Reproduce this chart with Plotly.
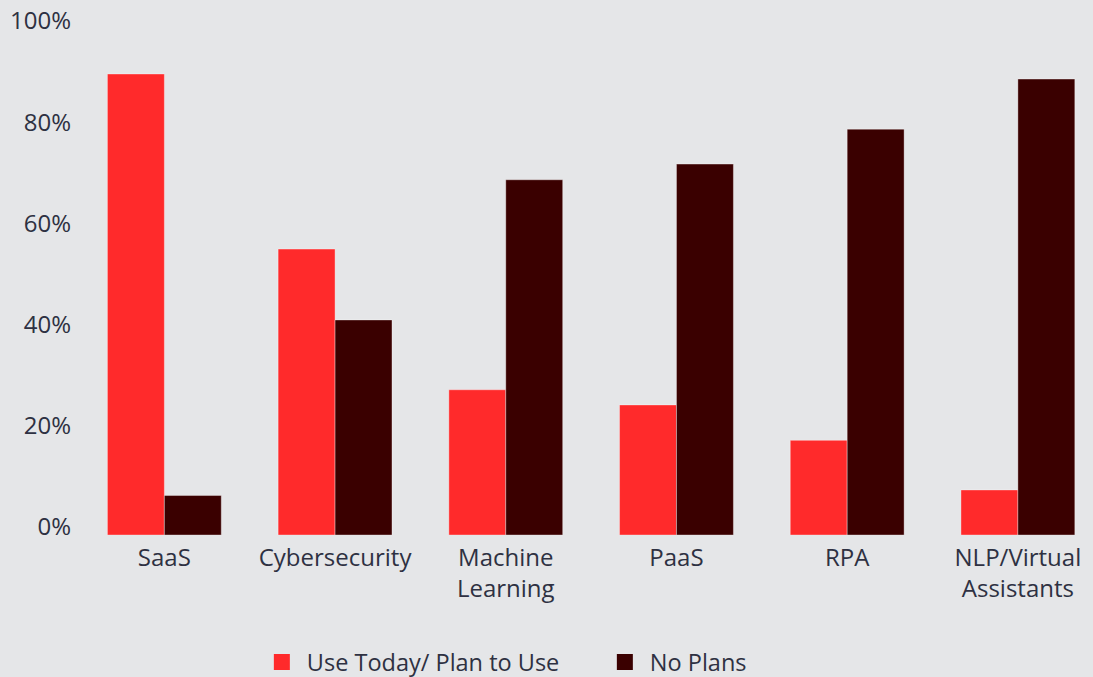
import plotly.graph_objects as go

categories = ["SaaS", "Cybersecurity", "Machine<br>Learning", "PaaS", "RPA", "NLP/Virtual<br>Assistants"]
use_today = [91.1, 56.5, 28.7, 25.7, 18.7, 8.9]
no_plans = [7.8, 42.5, 70.2, 73.3, 80.2, 90.1]
series_names = ["Use Today/ Plan to Use", "No Plans"]
y_ticks = [0, 20, 40, 60, 80, 100]
y_tick_labels = ["0%", "20%", "40%", "60%", "80%", "100%"]

RED = "#FF2A2B"
DARK = "#3A0000"
BG = "#E5E6E8"
TXT = "#2E3142"
FONT = "Open Sans, Liberation Sans, Arial, sans-serif"

x = list(range(len(categories)))
fig = go.Figure()
fig.add_trace(go.Bar(x=x, y=use_today, name=series_names[0], marker=dict(color=RED, line=dict(color="rgba(255,255,255,0.35)", width=1)), showlegend=False))
fig.add_trace(go.Bar(x=x, y=no_plans, name=series_names[1], marker=dict(color=DARK, line=dict(color="rgba(255,255,255,0.35)", width=1)), showlegend=False))
# legend proxies
for nm, c in zip(series_names, [RED, DARK]):
    fig.add_trace(go.Scatter(x=[None], y=[None], mode="markers", name=nm,
                             marker=dict(symbol="square", size=19, color=c)))

fig.update_layout(
    width=1093, height=677,
    paper_bgcolor=BG, plot_bgcolor=BG,
    margin=dict(l=79, r=0, t=10, b=142, autoexpand=False),
    barmode="group", bargap=0.333, bargroupgap=0,
    font=dict(family=FONT, size=24, color=TXT),
    xaxis=dict(tickmode="array", tickvals=x, ticktext=categories, range=[-0.5, 5.44],
               showgrid=False, zeroline=False, showline=False, ticks="", ticklabelstandoff=6,
               tickfont=dict(size=24, color=TXT), automargin=False),
    yaxis=dict(tickmode="array", tickvals=y_ticks, ticktext=y_tick_labels, range=[0, 103.75],
               showgrid=False, zeroline=False, showline=False, ticks="",
               ticklabelshift=-8, ticklabelstandoff=7,
               tickfont=dict(size=24, color=TXT), automargin=False),
    legend=dict(orientation="h", xref="container", x=0.235, xanchor="left",
                yref="container", y=0.022, yanchor="middle",
                font=dict(size=23.5, color=TXT), bgcolor="rgba(0,0,0,0)",
                entrywidth=288, itemwidth=40),
)
fig.write_html("out.html", config={"displayModeBar": False},
               post_script="document.body.style.margin='0';document.body.style.overflow='hidden';")
